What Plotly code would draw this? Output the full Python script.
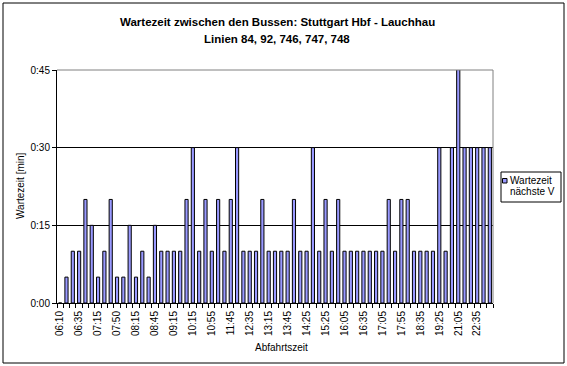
import plotly.graph_objects as go

# ---- data ----
departure_times = [
    "06:10", "06:15", "06:25", "06:35", "06:55", "07:10", "07:15", "07:25", "07:45", "07:50",
    "07:55", "08:10", "08:15", "08:25", "08:30", "08:45", "08:55", "09:05", "09:15", "09:25",
    "09:45", "10:15", "10:25", "10:45", "10:55", "11:15", "11:25", "11:45", "12:15", "12:25",
    "12:35", "12:45", "13:05", "13:15", "13:25", "13:35", "13:45", "14:05", "14:15", "14:25",
    "14:55", "15:05", "15:25", "15:35", "15:55", "16:05", "16:15", "16:25", "16:35", "16:45",
    "16:55", "17:05", "17:25", "17:35", "17:55", "18:15", "18:25", "18:35", "18:45", "18:55",
    "19:25", "19:35", "20:05", "21:05", "21:35", "22:05", "22:35", "23:05", "23:35",
]
wait_minutes = [
    0, 5, 10, 10, 20, 15, 5, 10, 20, 5,
    5, 15, 5, 10, 5, 15, 10, 10, 10, 10,
    20, 30, 10, 20, 10, 20, 10, 20, 30, 10,
    10, 10, 20, 10, 10, 10, 10, 20, 10, 10,
    30, 10, 20, 10, 20, 10, 10, 10, 10, 10,
    10, 10, 20, 10, 20, 20, 10, 10, 10, 10,
    30, 10, 30, 60, 30, 30, 30, 30, 30,
]
x_tick_labels = departure_times[::3]
y_tick_values = [0, 15, 30, 45]
y_tick_labels = ["0:00", "0:15", "0:30", "0:45"]
series_name = "Wartezeit nächste V"

title_line1 = "Wartezeit zwischen den Bussen: Stuttgart Hbf - Lauchhau"
title_line2 = "Linien 84, 92, 746, 747, 748"

# ---- layout geometry (pixels) ----
W, H = 567, 366
L, R, T, B = 57, 493, 70, 303
FONT = "Liberation Sans, Arial, sans-serif"


def px(x):
    return (x - L) / (R - L)


def py(y):
    return (B - y) / (B - T)


BAR_FILL = "#9999FF"

fig = go.Figure()
fig.add_trace(go.Bar(
    x=departure_times, y=wait_minutes, name=series_name,
    marker=dict(color=BAR_FILL, line=dict(color="black", width=1)),
    showlegend=False,
))

n = len(departure_times)
fig.update_layout(
    width=W, height=H,
    margin=dict(l=L, r=W - R, t=T, b=H - B, pad=0),
    paper_bgcolor="white", plot_bgcolor="white",
    font=dict(family=FONT, size=10, color="black"),
    bargap=0.5,
    xaxis=dict(
        type="category", range=[-0.5, n - 0.5],
        tickmode="array", tickvals=x_tick_labels, ticktext=x_tick_labels,
        tickangle=-90, ticks="", showgrid=False,
        showline=True, linecolor="black", linewidth=1,
        tickfont=dict(size=10), ticklabelstandoff=3,
    ),
    xaxis2=dict(
        overlaying="x", anchor="y", side="bottom",
        range=[-0.5, n - 0.5], tickmode="linear", tick0=-0.5, dtick=1,
        ticks="outside", ticklen=4, tickcolor="black", tickwidth=1,
        showticklabels=False, showgrid=False, showline=False, zeroline=False,
    ),
    yaxis=dict(
        range=[0, 45], tickmode="array", tickvals=y_tick_values, ticktext=y_tick_labels,
        ticks="outside", ticklen=4, tickcolor="black",
        showgrid=True, gridcolor="black", gridwidth=1,
        showline=True, linecolor="black", linewidth=1, zeroline=False,
        tickfont=dict(size=10),
    ),
)
# invisible trace to activate x2
fig.add_trace(go.Scatter(x=[0], y=[0], xaxis="x2", yaxis="y", mode="markers",
                         marker=dict(opacity=0), showlegend=False, hoverinfo="skip"))

shapes = [
    # plot area top & right border (grey)
    dict(type="line", xref="paper", yref="paper", x0=0, x1=1, y0=1, y1=1,
         line=dict(color="#808080", width=1)),
    dict(type="line", xref="paper", yref="paper", x0=1, x1=1, y0=0, y1=1,
         line=dict(color="#808080", width=1)),
    # chart outer border
    dict(type="rect", xref="paper", yref="paper", x0=px(3), x1=px(564), y0=py(3), y1=py(363),
         line=dict(color="black", width=1)),
    # legend box
    dict(type="rect", xref="paper", yref="paper", x0=px(501), x1=px(561), y0=py(172), y1=py(202),
         line=dict(color="black", width=1), fillcolor="white"),
    dict(type="rect", xref="paper", yref="paper", x0=px(502.5), x1=px(507), y0=py(178.5), y1=py(183),
         line=dict(color="black", width=1), fillcolor=BAR_FILL),
]
fig.update_layout(shapes=shapes)

annotations = [
    dict(text="<b>" + title_line1 + "</b>", x=px(277), y=py(22), xref="paper", yref="paper",
         showarrow=False, font=dict(size=11.5), xanchor="center", yanchor="middle"),
    dict(text="<b>" + title_line2 + "</b>", x=px(277), y=py(39), xref="paper", yref="paper",
         showarrow=False, font=dict(size=11.5), xanchor="center", yanchor="middle"),
    dict(text="Wartezeit [min]", x=px(20), y=py(186), xref="paper", yref="paper",
         showarrow=False, textangle=-90, font=dict(size=10), xanchor="center", yanchor="middle"),
    dict(text="Abfahrtszeit", x=px(281), y=py(347), xref="paper", yref="paper",
         showarrow=False, font=dict(size=10), xanchor="center", yanchor="middle"),
    dict(text="Wartezeit", x=px(507.5), y=py(180.5), xref="paper", yref="paper",
         showarrow=False, font=dict(size=10), xanchor="left", yanchor="middle"),
    dict(text="nächste V", x=px(507.5), y=py(191), xref="paper", yref="paper",
         showarrow=False, font=dict(size=10), xanchor="left", yanchor="middle"),
]
fig.update_layout(annotations=annotations)

fig.write_html("out.html", config={"displayModeBar": False},
               post_script="document.body.style.margin='0px';document.body.style.padding='0px';")
